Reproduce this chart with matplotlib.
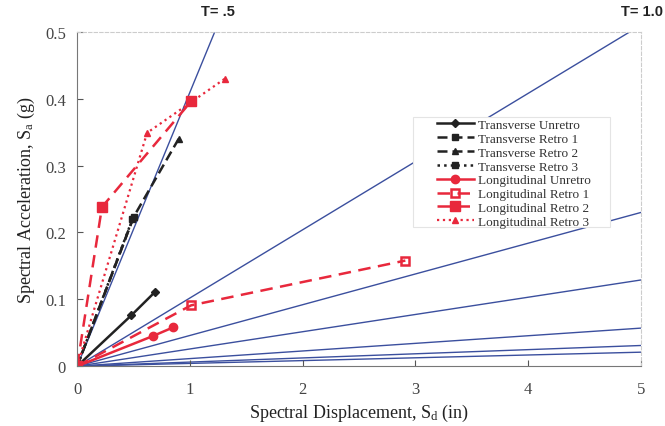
import matplotlib
matplotlib.use("Agg")
import matplotlib.pyplot as plt
from matplotlib.patches import Rectangle

plt.rcParams['font.family'] = ['Liberation Serif', 'DejaVu Serif']
plt.rcParams['mathtext.fontset'] = 'custom'
plt.rcParams['mathtext.rm'] = 'Liberation Serif'
plt.rcParams['mathtext.default'] = 'regular'

# constant period lines (end points, all start at origin)
period_end_x = [1.22, 4.9, 5.0, 5.0, 5.0, 5.0, 5.0]
period_end_y = [0.5, 0.5, 0.23, 0.129, 0.057, 0.031, 0.021]

# capacity curves
trans_unretro_x = [0, 0.48, 0.69]
trans_unretro_y = [0, 0.076, 0.111]
trans_retro1_x = [0, 0.50]
trans_retro1_y = [0, 0.223]
trans_retro2_x = [0, 0.50, 0.90]
trans_retro2_y = [0, 0.223, 0.34]
trans_retro3_x = [0, 0.49]
trans_retro3_y = [0, 0.22]
long_unretro_x = [0, 0.67, 0.85]
long_unretro_y = [0, 0.045, 0.058]
long_retro1_x = [0, 1.01, 2.91]
long_retro1_y = [0, 0.091, 0.158]
long_retro2_x = [0, 0.22, 1.01]
long_retro2_y = [0, 0.238, 0.396]
long_retro3_x = [0, 0.62, 1.31]
long_retro3_y = [0, 0.349, 0.43]

period_labels = ["T= .5", "T= 1.0"]

fig = plt.figure(figsize=(6.65, 4.27), dpi=100)
ax = fig.add_axes([0.116, 0.14, 0.848, 0.783])

for ex, ey in zip(period_end_x, period_end_y):
    ax.plot([0, ex], [0, ey], color='#3b4f9e', lw=1.0, zorder=1)

black = '#222222'
red = '#e8283c'
ax.plot(trans_unretro_x, trans_unretro_y, color=black, ls='-', lw=1.8, marker='D', ms=4,
        label='Transverse Unretro')
ax.plot(trans_retro1_x, trans_retro1_y, color=black, ls=(0, (4, 2)), lw=1.8, marker='s', ms=4,
        label='Transverse Retro 1')
ax.plot(trans_retro2_x, trans_retro2_y, color=black, ls=(0, (4, 2)), lw=1.8, marker='^', ms=5,
        label='Transverse Retro 2')
ax.plot(trans_retro3_x, trans_retro3_y, color=black, ls=':', lw=1.8, marker='s', ms=4,
        label='Transverse Retro 3')
ax.plot(long_unretro_x, long_unretro_y, color=red, ls='-', lw=1.8, marker='o', ms=6,
        label='Longitudinal Unretro')
ax.plot(long_retro1_x, long_retro1_y, color=red, ls=(0, (5, 3)), lw=1.8, marker='s', ms=6,
        mfc='none', mew=1.8, label='Longitudinal Retro 1')
ax.plot(long_retro2_x, long_retro2_y, color=red, ls=(0, (5, 3)), lw=1.8, marker='s', ms=7,
        label='Longitudinal Retro 2')
ax.plot(long_retro3_x, long_retro3_y, color=red, ls=':', lw=1.6, marker='^', ms=4,
        label='Longitudinal Retro 3')

ax.set_xlim(0, 5)
ax.set_ylim(0, 0.5)
ax.set_xticks([0, 1, 2, 3, 4, 5])
ax.set_yticks([0, 0.1, 0.2, 0.3, 0.4, 0.5])
ax.set_yticklabels(['0', '0.1', '0.2', '0.3', '0.4', '0.5'])
ax.tick_params(direction='in', labelsize=12, length=4, colors='#555555', labelcolor='#444444')
ax.tick_params(axis='x', pad=11)
ax.tick_params(axis='y', pad=8)
for s in ['left', 'bottom']:
    ax.spines[s].set_color('#777777')
for s in ['top', 'right']:
    ax.spines[s].set_color('#cccccc')
    ax.spines[s].set_linestyle((0, (3, 2)))

ax.set_xlabel('Spectral Displacement, S$_d$ (in)', fontsize=13, color='#222222', labelpad=3)
ax.set_ylabel('Spectral Acceleration, S$_a$ (g)', fontsize=13, color='#222222', labelpad=6)

fig.text(218 / 665, 1 - 12 / 427, period_labels[0], ha='center', va='center', fontsize=10.5,
         fontweight='bold', family='Liberation Sans', color='#222222')
fig.text(663 / 665, 1 - 12 / 427, period_labels[1], ha='right', va='center', fontsize=10.5,
         fontweight='bold', family='Liberation Sans', color='#222222')

# legend box is wider than its content in the original
ax.add_patch(Rectangle((0.596, 0.416), 0.349, 0.33, transform=ax.transAxes,
                       facecolor='white', edgecolor='#e4e4e4', lw=0.8, zorder=4))
leg = ax.legend(loc='upper left', bbox_to_anchor=(0.638, 0.74), fontsize=9.5,
                handlelength=2.8, labelspacing=0.12, borderpad=0, frameon=False,
                handletextpad=0.3, borderaxespad=0)
leg.set_zorder(5)
for t in leg.get_texts():
    t.set_color('#333333')

fig.savefig('out.png', dpi=100)
